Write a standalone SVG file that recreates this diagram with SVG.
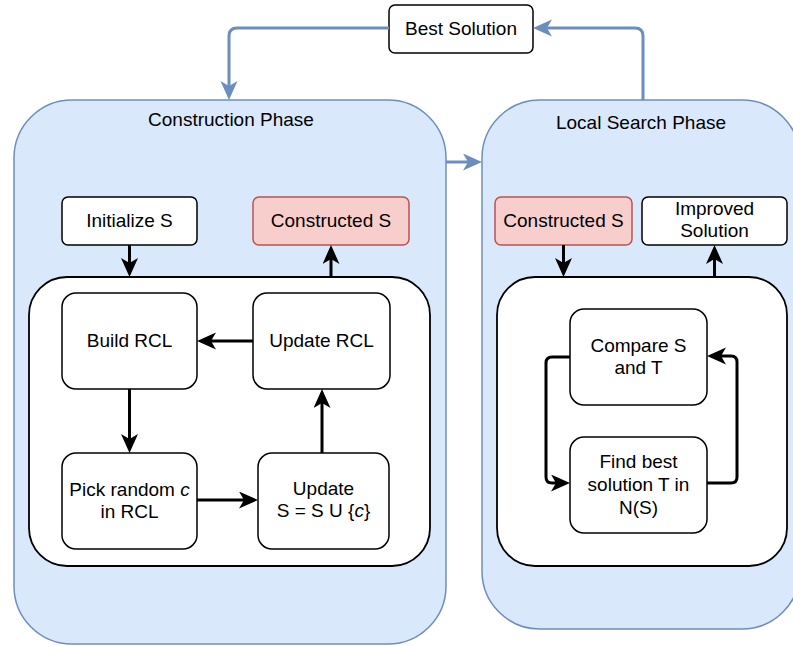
<svg xmlns="http://www.w3.org/2000/svg" width="793" height="646" viewBox="0 0 793 646">
  <defs>
    <style>
      text { font-family: "Liberation Sans", Arial, Helvetica, sans-serif; font-size: 19px; fill: #000; text-anchor: middle; }
      .phase { fill: #dae8fc; stroke: #6c8ebf; stroke-width: 1.5; }
      .inner { fill: #fff; stroke: #000; stroke-width: 1.8; }
      .node { fill: #fff; stroke: #000; stroke-width: 1.5; }
      .red { fill: #f8cecc; stroke: #b85450; stroke-width: 1.5; }
      .edge { fill: none; stroke: #000; stroke-width: 3; }
      .blue { fill: none; stroke: #6c8ebf; stroke-width: 3; }
    </style>
    <marker id="arrow" markerUnits="userSpaceOnUse" markerWidth="20" markerHeight="18" refX="5" refY="8.5" orient="auto">
      <path d="M0,0 L19,8.5 L0,17 L5,8.5 Z" fill="#000"/>
    </marker>
    <marker id="arrowBlue" markerUnits="userSpaceOnUse" markerWidth="20" markerHeight="18" refX="5" refY="8.5" orient="auto">
      <path d="M0,0 L19,8.5 L0,17 L5,8.5 Z" fill="#6c8ebf"/>
    </marker>
  </defs>

  <!-- phase containers -->
  <g id="construction-phase">
    <rect class="phase" x="14" y="100" width="432" height="544" rx="58" ry="58"/>
    <text x="231" y="126">Construction Phase</text>
    <rect class="inner" x="29" y="277" width="401" height="289" rx="38" ry="38"/>
  </g>
  <g id="local-search-phase">
    <rect class="phase" x="482" y="100" width="318" height="529" rx="58" ry="58"/>
    <text x="641" y="129">Local Search Phase</text>
    <rect class="inner" x="497" y="277" width="290" height="289" rx="38" ry="38"/>
  </g>

  <!-- nodes -->
  <g id="best-solution">
    <rect class="node" x="389" y="5" width="144" height="48" rx="6" ry="6"/>
    <text x="461" y="35">Best Solution</text>
  </g>
  <g id="initialize-s">
    <rect class="node" x="62" y="197" width="135" height="48" rx="6" ry="6"/>
    <text x="129.5" y="227">Initialize S</text>
  </g>
  <g id="constructed-s-1">
    <rect class="red" x="253" y="197" width="156" height="48" rx="6" ry="6"/>
    <text x="331" y="227">Constructed S</text>
  </g>
  <g id="build-rcl">
    <rect class="node" x="62" y="293" width="135" height="96" rx="14" ry="14"/>
    <text x="129.5" y="347">Build RCL</text>
  </g>
  <g id="update-rcl">
    <rect class="node" x="253" y="293" width="137" height="96" rx="14" ry="14"/>
    <text x="321.5" y="347">Update RCL</text>
  </g>
  <g id="pick-random">
    <rect class="node" x="62" y="453" width="135" height="96" rx="14" ry="14"/>
    <text x="129.5" y="496">Pick random <tspan font-style="italic">c</tspan></text>
    <text x="129.5" y="518">in RCL</text>
  </g>
  <g id="update-s">
    <rect class="node" x="258" y="453" width="131" height="96" rx="14" ry="14"/>
    <text x="323.5" y="495">Update</text>
    <text x="323.5" y="517">S = S U {<tspan font-style="italic">c</tspan>}</text>
  </g>
  <g id="constructed-s-2">
    <rect class="red" x="495" y="197" width="137" height="48" rx="6" ry="6"/>
    <text x="563.5" y="227">Constructed S</text>
  </g>
  <g id="improved-solution">
    <rect class="node" x="642" y="197" width="145" height="48" rx="6" ry="6"/>
    <text x="714.5" y="215">Improved</text>
    <text x="714.5" y="237">Solution</text>
  </g>
  <g id="compare">
    <rect class="node" x="570" y="309" width="137" height="96" rx="14" ry="14"/>
    <text x="638.5" y="352">Compare S</text>
    <text x="638.5" y="374">and T</text>
  </g>
  <g id="find-best">
    <rect class="node" x="570" y="437" width="137" height="96" rx="14" ry="14"/>
    <text x="638.5" y="468">Find best</text>
    <text x="638.5" y="491">solution T in</text>
    <text x="638.5" y="514">N(S)</text>
  </g>

  <!-- connectors -->
  <g id="connectors">
    <path class="blue" d="M389,28 L237,28 Q229,28 229,36 L229,86" marker-end="url(#arrowBlue)"/>
    <path class="blue" d="M643,100 L643,36 Q643,28 635,28 L547,28" marker-end="url(#arrowBlue)"/>
    <path class="blue" d="M446,162 L468,162" marker-end="url(#arrowBlue)"/>

    <path class="edge" d="M129.5,245 L129.5,263" marker-end="url(#arrow)"/>
    <path class="edge" d="M331,277 L331,259" marker-end="url(#arrow)"/>
    <path class="edge" d="M253,341 L211,341" marker-end="url(#arrow)"/>
    <path class="edge" d="M129.5,389 L129.5,439" marker-end="url(#arrow)"/>
    <path class="edge" d="M197,500 L244,500" marker-end="url(#arrow)"/>
    <path class="edge" d="M322,453 L322,403" marker-end="url(#arrow)"/>

    <path class="edge" d="M563.5,245 L563.5,263" marker-end="url(#arrow)"/>
    <path class="edge" d="M714.5,277 L714.5,259" marker-end="url(#arrow)"/>
    <path class="edge" d="M570,357 L552,357 Q546,357 546,363 L546,477 Q546,483 552,483 L556,483" marker-end="url(#arrow)"/>
    <path class="edge" d="M707,483 L731,483 Q737,483 737,477 L737,362 Q737,356 731,356 L721,356" marker-end="url(#arrow)"/>
  </g>
</svg>
